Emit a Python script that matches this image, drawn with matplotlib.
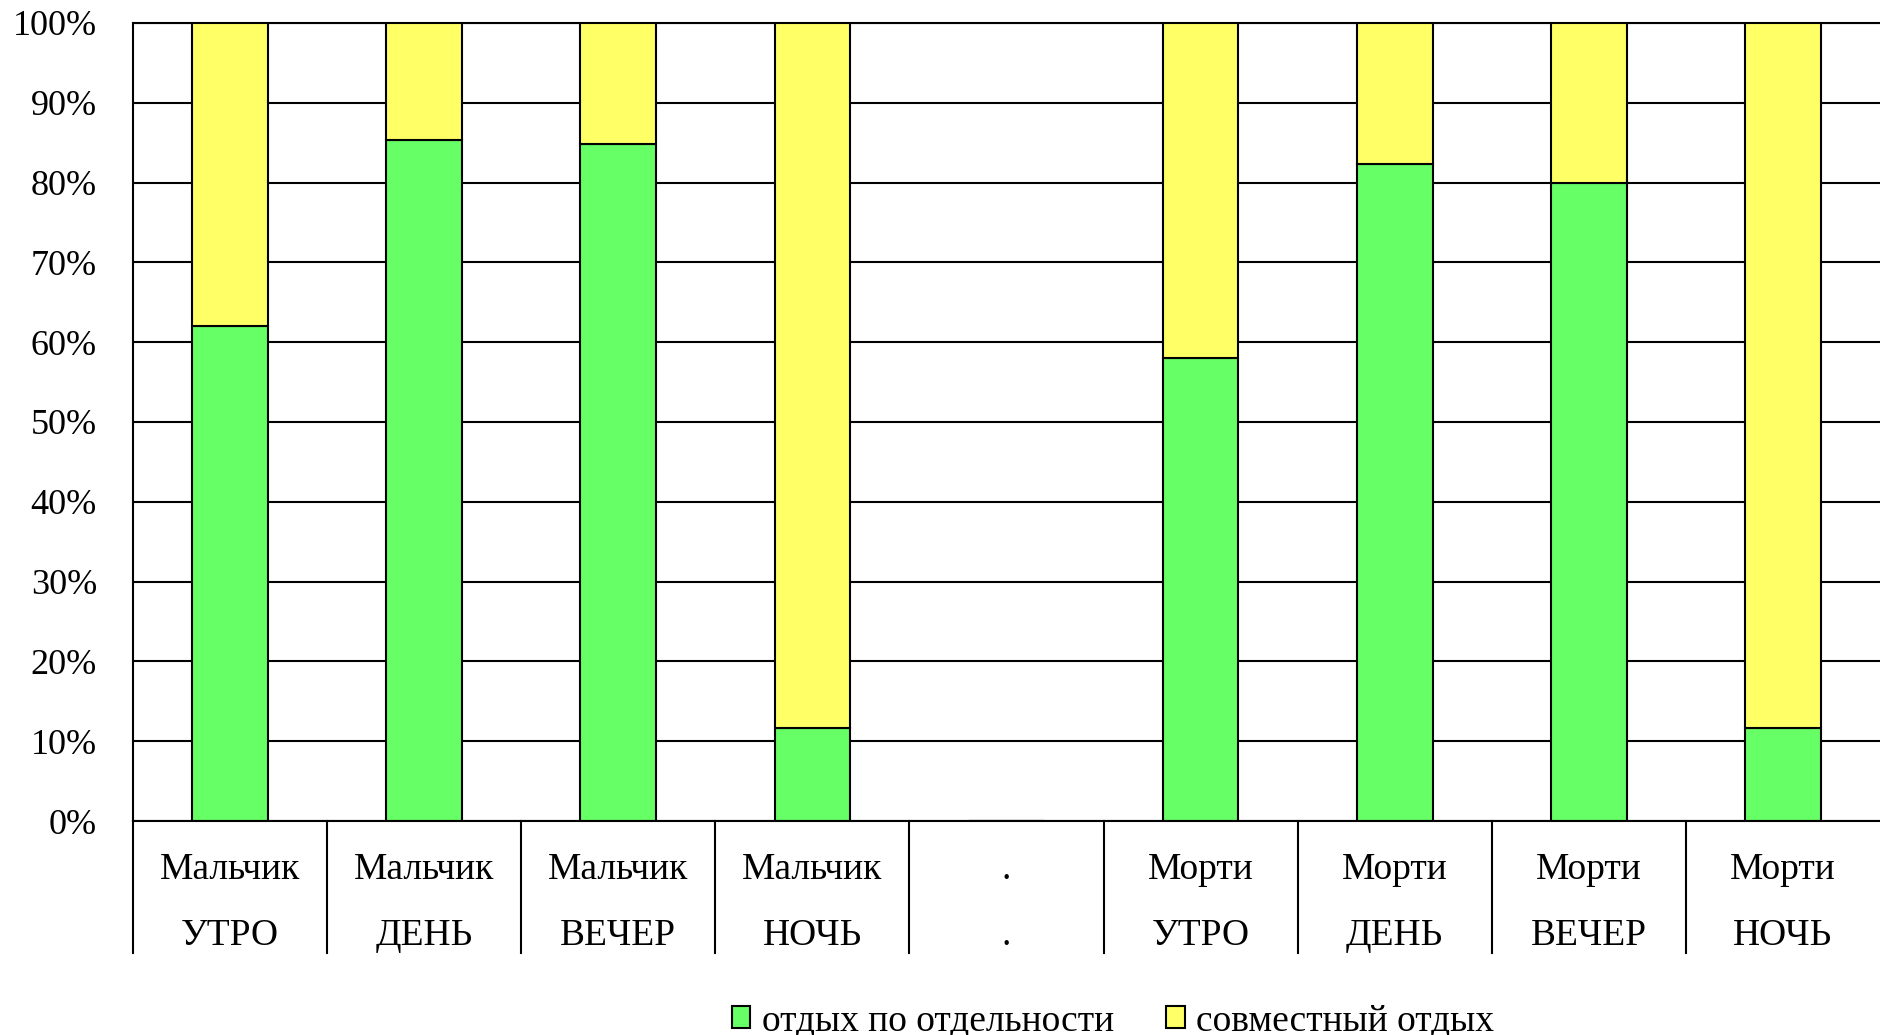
import matplotlib
matplotlib.use("Agg")
import matplotlib.pyplot as plt
from matplotlib.patches import Rectangle
from matplotlib.transforms import blended_transform_factory

plt.rcParams['font.family'] = ['Liberation Serif', 'DejaVu Serif']

# Data
subjects = ["Мальчик", "Мальчик", "Мальчик", "Мальчик", ".",
            "Морти", "Морти", "Морти", "Морти"]
times = ["УТРО", "ДЕНЬ", "ВЕЧЕР", "НОЧЬ", ".",
         "УТРО", "ДЕНЬ", "ВЕЧЕР", "НОЧЬ"]
separate = [62.0, 85.4, 84.8, 11.6, 0.0, 58.0, 82.3, 80.0, 11.7]
together = [38.0, 14.6, 15.2, 88.4, 0.0, 42.0, 17.7, 20.0, 88.3]
series_names = ["отдых по отдельности", "совместный отдых"]
green = "#66FF66"
yellow = "#FFFF66"

W, H = 1880, 1035
fig = plt.figure(figsize=(W / 100, H / 100), dpi=100)
left_px, top_px, bottom_px = 133, 23, 821
ax = fig.add_axes([left_px / W, (H - bottom_px) / H,
                   (W - left_px) / W, (bottom_px - top_px) / H])

n = len(subjects)
x = list(range(n))
bw = 0.39
ax.bar(x, separate, width=bw, color=green, edgecolor="black", linewidth=1.5, zorder=3)
ax.bar(x, together, width=bw, bottom=separate, color=yellow, edgecolor="black",
       linewidth=1.5, zorder=3)

ax.set_xlim(-0.5, n - 0.5)
ax.set_ylim(0, 100)
ax.set_yticks(range(0, 101, 10))
ax.set_yticklabels([f"{v}%" for v in range(0, 101, 10)], fontsize=26)
ax.tick_params(axis="y", length=0, pad=26)
ax.set_xticks([])
ax.grid(axis="y", color="black", linewidth=1.5, zorder=1)
ax.set_axisbelow(True)
for side in ("right", "bottom"):
    ax.spines[side].set_visible(False)
ax.spines["left"].set_linewidth(1.5)
ax.spines["top"].set_linewidth(1.5)

# Category box lines under the axis
trans = blended_transform_factory(ax.transData, ax.transAxes)
sep_bottom = -(953 - bottom_px) / (bottom_px - top_px)
ax.plot([-0.5, n - 0.5], [0, 0], transform=trans, color="black", lw=1.5,
        clip_on=False, zorder=5)
for b in range(n):
    xb = b - 0.5
    ax.plot([xb, xb], [0, sep_bottom], transform=trans, color="black", lw=1.5,
            clip_on=False)

y1 = -(870 - bottom_px) / (bottom_px - top_px)
y2 = -(936 - bottom_px) / (bottom_px - top_px)
for i in range(n):
    ax.text(i, y1, subjects[i], transform=trans, ha="center", va="center", fontsize=27)
    ax.text(i, y2, times[i], transform=trans, ha="center", va="center", fontsize=27)

handles = [Rectangle((0, 0), 1, 1, facecolor=green, edgecolor="black", lw=1.5),
           Rectangle((0, 0), 1, 1, facecolor=yellow, edgecolor="black", lw=1.5)]
fig.legend(handles, series_names, loc="center", bbox_to_anchor=(0.592, 1 - 1021 / H),
           ncol=2, frameon=False, fontsize=27, handlelength=0.5, handleheight=0.5,
           handletextpad=0.3, columnspacing=1.4, borderaxespad=0)

fig.savefig("out.png", dpi=100)
